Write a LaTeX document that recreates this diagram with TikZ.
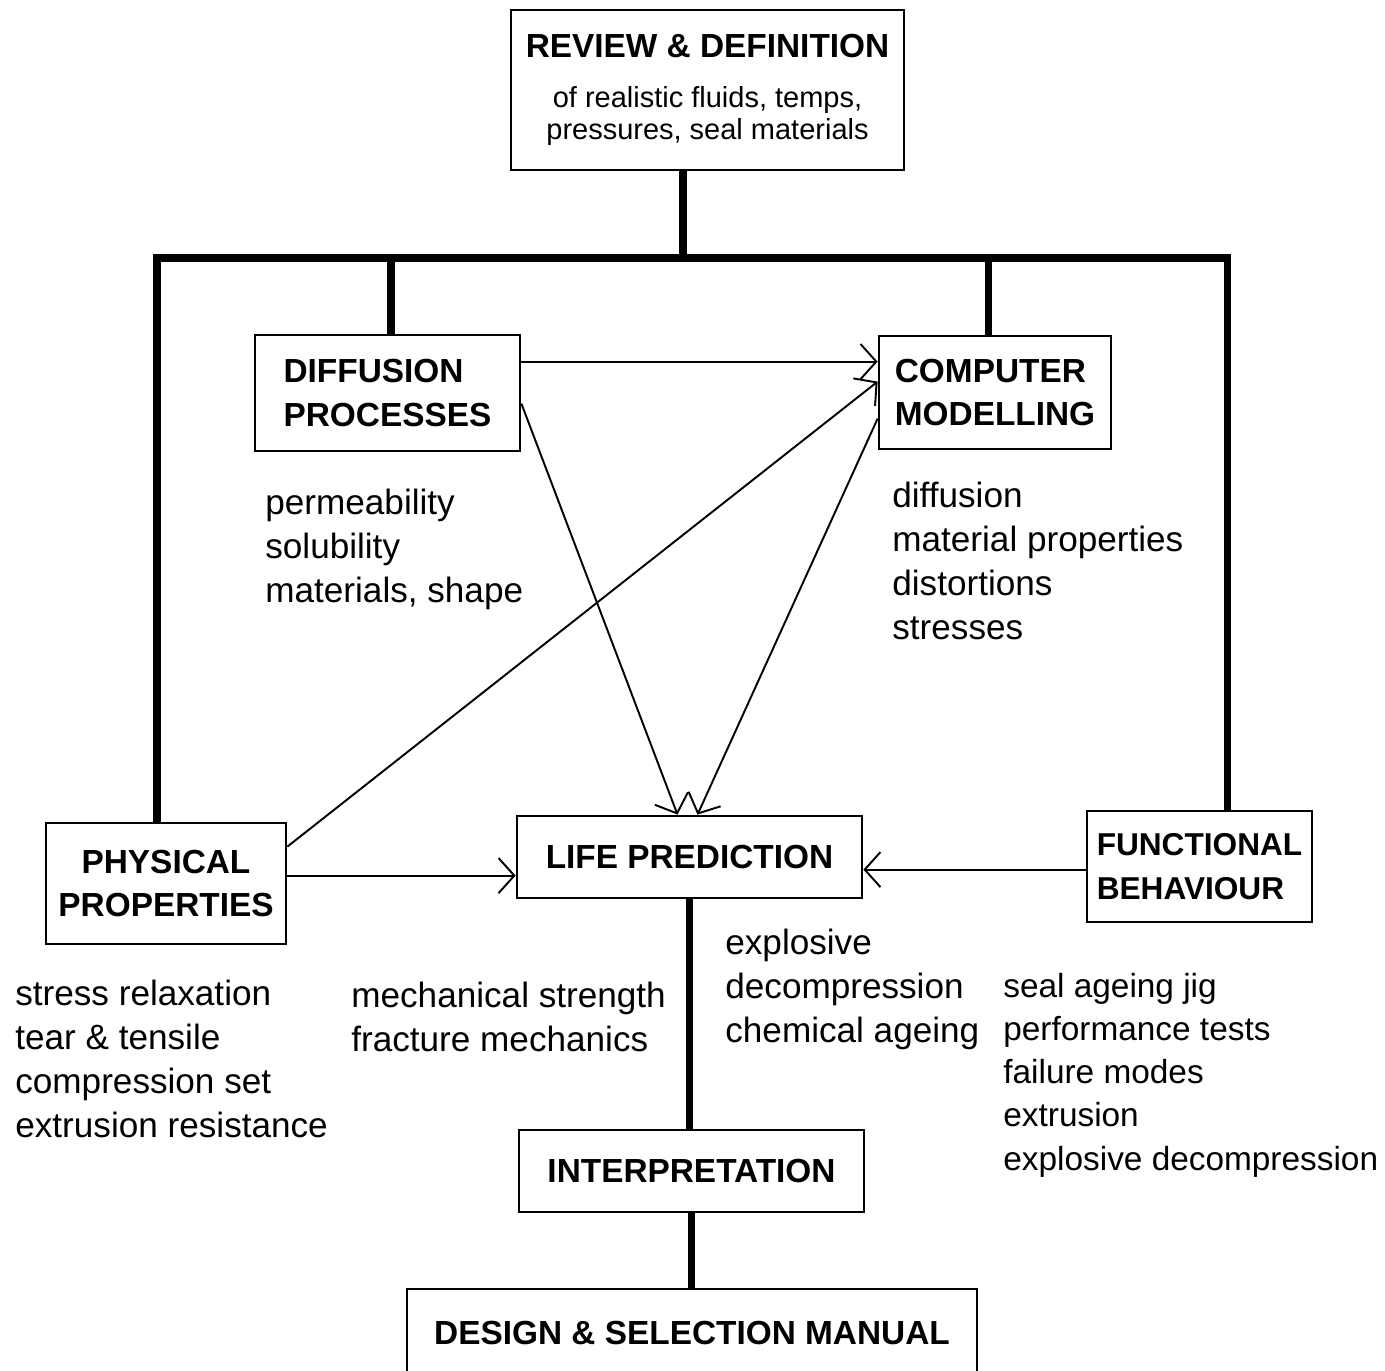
\documentclass[tikz,border=0pt]{standalone}
\usepackage{fontspec}
\setmainfont{Liberation Sans}
\usetikzlibrary{arrows.meta,calc}
\newcommand{\subfont}{\fontsize{16.5}{18.7}\selectfont\mdseries}
\begin{document}
\begin{tikzpicture}[x=0.02cm,y=-0.02cm,
  box/.style={draw,line width=1.6pt,inner sep=0pt,font=\fontsize{19}{25}\selectfont\bfseries},
  bus/.style={line width=4pt},
  arr/.style={line width=1.1pt,-{Straight Barb[length=9pt,width=20pt,line width=1.1pt]}},
  lbl/.style={anchor=west,align=left,inner sep=0pt,font=\fontsize{20}{25}\selectfont}]
\useasboundingbox (0,0) rectangle (1385,1371);
% boxes
\node[box,minimum width=7.86cm,minimum height=3.2cm,align=center] (review) at (707.5,90)
  {REVIEW \& DEFINITION\\[3.3pt]{\subfont of realistic fluids, temps,}\\[-6.3pt]{\subfont pressures, seal materials}};
\node[box,minimum width=5.3cm,minimum height=2.32cm,align=left] (diff) at (387.5,393) {DIFFUSION\\PROCESSES};
\node[box,minimum width=4.64cm,minimum height=2.26cm,align=left] (comp) at (995,392.5) {COMPUTER\\MODELLING};
\node[box,minimum width=4.8cm,minimum height=2.42cm,align=center] (phys) at (166,883.5) {PHYSICAL\\PROPERTIES};
\node[box,minimum width=6.9cm,minimum height=1.64cm] (life) at (689.5,857) {LIFE PREDICTION};
\node[box,minimum width=4.5cm,minimum height=2.22cm,align=left,font=\fontsize{18}{25}\selectfont\bfseries] (func) at (1199.5,866.5) {FUNCTIONAL\\BEHAVIOUR};
\node[box,minimum width=6.9cm,minimum height=1.64cm] (interp) at (691.5,1171) {INTERPRETATION};
\node[box,minimum width=11.4cm,minimum height=1.76cm] (design) at (692,1333) {DESIGN \& SELECTION MANUAL};
% bus lines
\coordinate (top) at (683,258);
\coordinate (busL) at (157,258);
\coordinate (busR) at (1227,258);
\coordinate (d1) at (391,258);
\coordinate (c1) at (988,258);
\draw[bus] (top |- review.south) -- (top);
\draw[bus] (busL |- phys.north) -- (busL) -- (busR) -- (busR |- func.north);
\draw[bus] (d1) -- (d1 |- diff.north);
\draw[bus] (c1) -- (c1 |- comp.north);
\draw[bus] (life.south) -- (life.south |- interp.north);
\draw[bus] (interp.south) -- (interp.south |- design.north);
% arrows
\coordinate (a1) at ($(diff.north east)+(0,28)$);
\draw[arr] (a1) -- (comp.west |- a1);
\draw[arr] ($(diff.north east)+(0,70)$) -- ($(life.north)+(-12,0)$);
\draw[arr] ($(phys.north east)+(0,25)$) -- ($(comp.north west)+(0,47)$);
\draw[arr] ($(comp.north west)+(0,84)$) -- ($(life.north)+(8,0)$);
\coordinate (a5) at ($(phys.north east)+(0,54)$);
\draw[arr] (a5) -- (life.west |- a5);
\coordinate (a6) at ($(func.north west)+(0,60)$);
\draw[arr] (a6) -- (life.east |- a6);
% labels
\node[lbl] (tdiff) at (265,549) {permeability\\solubility\\materials, shape};
\node[lbl] (tcomp) at (892,561) {diffusion\\material properties\\distortions\\stresses};
\node[lbl] (tphys) at (15,1059) {stress relaxation\\tear \& tensile\\compression set\\extrusion resistance};
\node[lbl] (tmech) at (351,1017) {mechanical strength\\fracture mechanics};
\node[lbl] (texpl) at (725,989) {explosive\\decompression\\chemical ageing};
\node[lbl,font=\fontsize{19}{24.6}\selectfont] (tfunc) at (1003,1075) {seal ageing jig\\performance tests\\failure modes\\extrusion\\explosive decompression};
\end{tikzpicture}
\end{document}
